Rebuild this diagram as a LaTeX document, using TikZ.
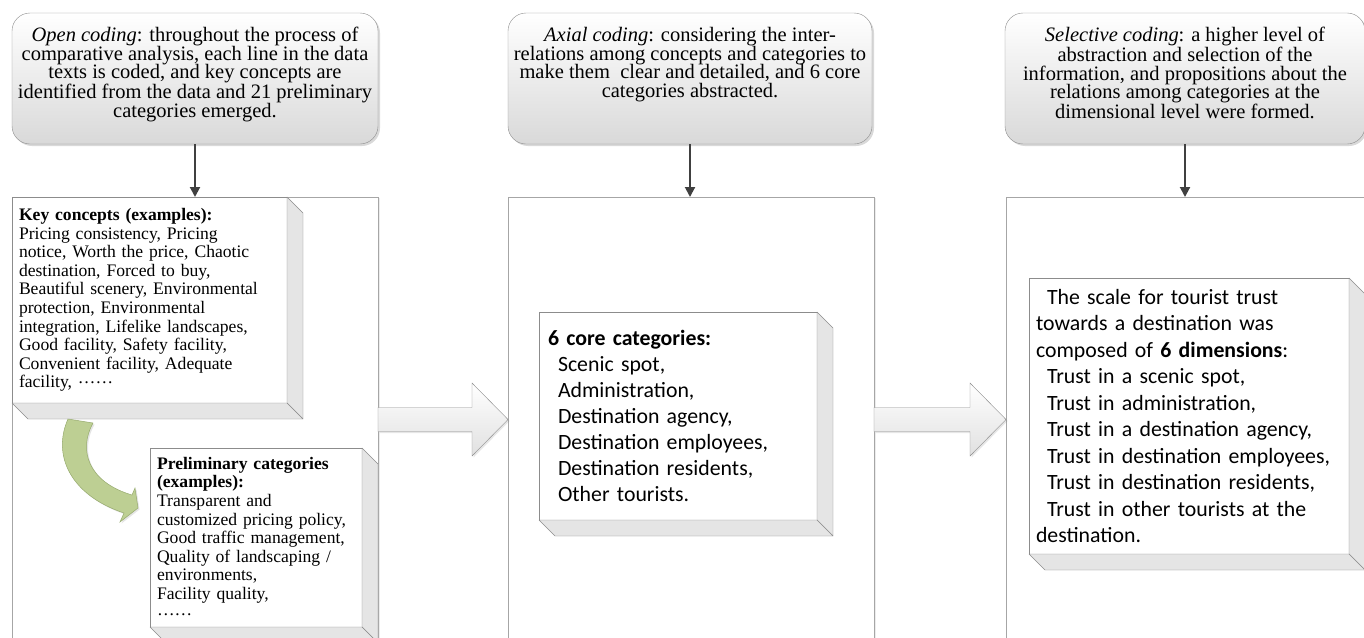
\documentclass[tikz,border=0pt]{standalone}
\usepackage{fontspec}
\setmainfont{Liberation Serif}
\newfontfamily\calibri{Carlito}
\usetikzlibrary{arrows.meta, positioning, calc, shadows}
\setlength{\lineskiplimit}{-20pt}
\definecolor{edgegray}{RGB}{140,140,140}
\definecolor{leafgreen}{RGB}{189,207,147}
\definecolor{leafedge}{RGB}{150,170,110}
% text of a coding phase, first baseline at a fixed depth
\newcommand{\phasetext}[1]{\parbox[c][131pt][t]{356pt}{\centering\rule{0pt}{28.5pt}#1}}
\tikzset{
    phase/.style={draw=edgegray, rounded corners=18pt, top color=white,
        bottom color=black!15, minimum width=366pt, minimum height=131pt,
        inner sep=0pt, font=\fontsize{20.5}{18.7}\selectfont,
        drop shadow={opacity=0.3, shadow xshift=2pt, shadow yshift=-2pt}},
    colbox/.style={draw=black!35, fill=white, anchor=north west,
        minimum height=480pt, inner sep=0pt, outer sep=0pt,
        drop shadow={opacity=0.15, shadow xshift=1.5pt, shadow yshift=-1pt}},
    front/.style={draw=black!45, fill=white, anchor=north west, align=left,
        outer sep=0pt, inner ysep=0pt},
    serifbox/.style={front, inner xsep=7pt,
        font=\fontsize{17.6}{18.6}\selectfont},
    sansbox/.style={front, inner xsep=8pt,
        font=\calibri\fontsize{21.8}{25.9}\selectfont},
    sideface/.style={draw=black!45, fill=black!10, line join=round},
    downarr/.style={-{Triangle[length=10pt, width=10pt]}, line width=2pt, black!75},
    blockarr/.style={draw=edgegray, top color=white, bottom color=black!12,
        drop shadow={opacity=0.2, shadow xshift=1.5pt, shadow yshift=-1.5pt}},
    curvearr/.style={draw=leafedge, fill=leafgreen, line width=0.5pt,
        drop shadow={opacity=0.2, shadow xshift=1.5pt, shadow yshift=-1.5pt}},
}

\begin{document}
\begin{tikzpicture}[x=1pt, y=-1pt]
    \useasboundingbox (0,0) rectangle (1364,637);
    \clip (0,0) rectangle (1364,637);

    % Columns
    \node[colbox, minimum width=366pt] (col1) at (12,197) {};
    \node[colbox, minimum width=366pt] (col2) at (508,197) {};
    \node[colbox, minimum width=400pt] (col3) at (1006,197) {};

    % Coding phases
    \node[phase] (open) at (195,78.5) {\phasetext{\textit{Open coding}: throughout the process of\\
        comparative analysis, each line in the data\\
        texts is coded, and key concepts are\\
        identified from the data and 21 preliminary\\
        categories emerged.}};
    \node[phase, minimum width=364pt] (axial) at (690,78.5) {\phasetext{\textit{Axial coding}: considering the inter-\\
        relations among concepts and categories to\\
        make them~ clear and detailed, and 6 core\\
        categories abstracted.}};
    \node[phase, minimum width=360pt] (sel) at (1185,78.5) {\phasetext{\textit{Selective coding}: a higher level of\\
        abstraction and selection of the\\
        information, and propositions about the\\
        relations among categories at the\\
        dimensional level were formed.}};

    \foreach \p/\c in {open/col1, axial/col2, sel/col3} {
        \draw[downarr] (\p.south) -- (\p.south |- \c.north);
    }

    % Boxes
    \node[serifbox, text width=261pt, minimum height=206pt] (kc) at (12,197) {\textbf{Key concepts (examples):}\\
        Pricing consistency, Pricing\\
        notice, Worth the price, Chaotic\\
        destination, Forced to buy,\\
        Beautiful scenery, Environmental\\
        protection, Environmental\\
        integration, Lifelike landscapes,\\
        Good facility, Safety facility,\\
        Convenient facility, Adequate\\
        facility, \raisebox{0.25em}{……}};
    \node[serifbox, text width=198pt, minimum height=179pt] (pc) at (150,448) {\textbf{Preliminary categories}\\
        \textbf{(examples):}\\
        Transparent and\\
        customized pricing policy,\\
        Good traffic management,\\
        Quality of landscaping /\\
        environments,\\
        Facility quality,\\
        \raisebox{0.15em}{……}};
    \node[sansbox, inner xsep=9pt, text width=260pt, minimum height=208pt] (core) at (539,312) {\textbf{6 core categories:}\\
        \hspace*{10pt}Scenic spot,\\
        \hspace*{10pt}Administration,\\
        \hspace*{10pt}Destination agency,\\
        \hspace*{10pt}Destination employees,\\
        \hspace*{10pt}Destination residents,\\
        \hspace*{10pt}Other tourists.};
    \node[sansbox, inner xsep=7pt, text width=306pt, minimum height=276pt,
        font=\calibri\fontsize{21.8}{26.5}\selectfont] (scale) at (1029,278) {\hspace*{11pt}The scale for tourist trust\\
        towards a destination was\\
        composed of \textbf{6 dimensions}:\\
        \hspace*{11pt}Trust in a scenic spot,\\
        \hspace*{11pt}Trust in administration,\\
        \hspace*{11pt}Trust in a destination agency,\\
        \hspace*{11pt}Trust in destination employees,\\
        \hspace*{11pt}Trust in destination residents,\\
        \hspace*{11pt}Trust in other tourists at the\\
        destination.};

    \foreach \b in {kc, pc, core, scale} {
        \draw[sideface] (\b.north east) -- ++(16,16) -- ([shift={(16,16)}]\b.south east) -- (\b.south east) -- cycle;
        \draw[sideface] (\b.south west) -- ++(16,16) -- ([shift={(16,16)}]\b.south east) -- (\b.south east) -- cycle;
    }

    % Block arrows
    \foreach \a/\b in {col1/col2, col2/col3} {
        \draw[blockarr] (\b.west |- 0,419.5) -- ++(-36,-36.5) -- ++(0,24.5)
            -- (\a.east |- 0,407.5) -- (\a.east |- 0,431.5)
            -- ($(\b.west |- 0,431.5)+(-36,0)$) -- ++(0,24.5) -- cycle;
    }

    % Key concepts -> preliminary categories
    \draw[curvearr] (68,419) -- (93,423) .. controls (78,450) and (88,482) .. (132,495)
        -- (135,488) -- (138,508) -- (120,522) -- (124,513)
        .. controls (70,495) and (52,455) .. (68,419) -- cycle;
\end{tikzpicture}
\end{document}
